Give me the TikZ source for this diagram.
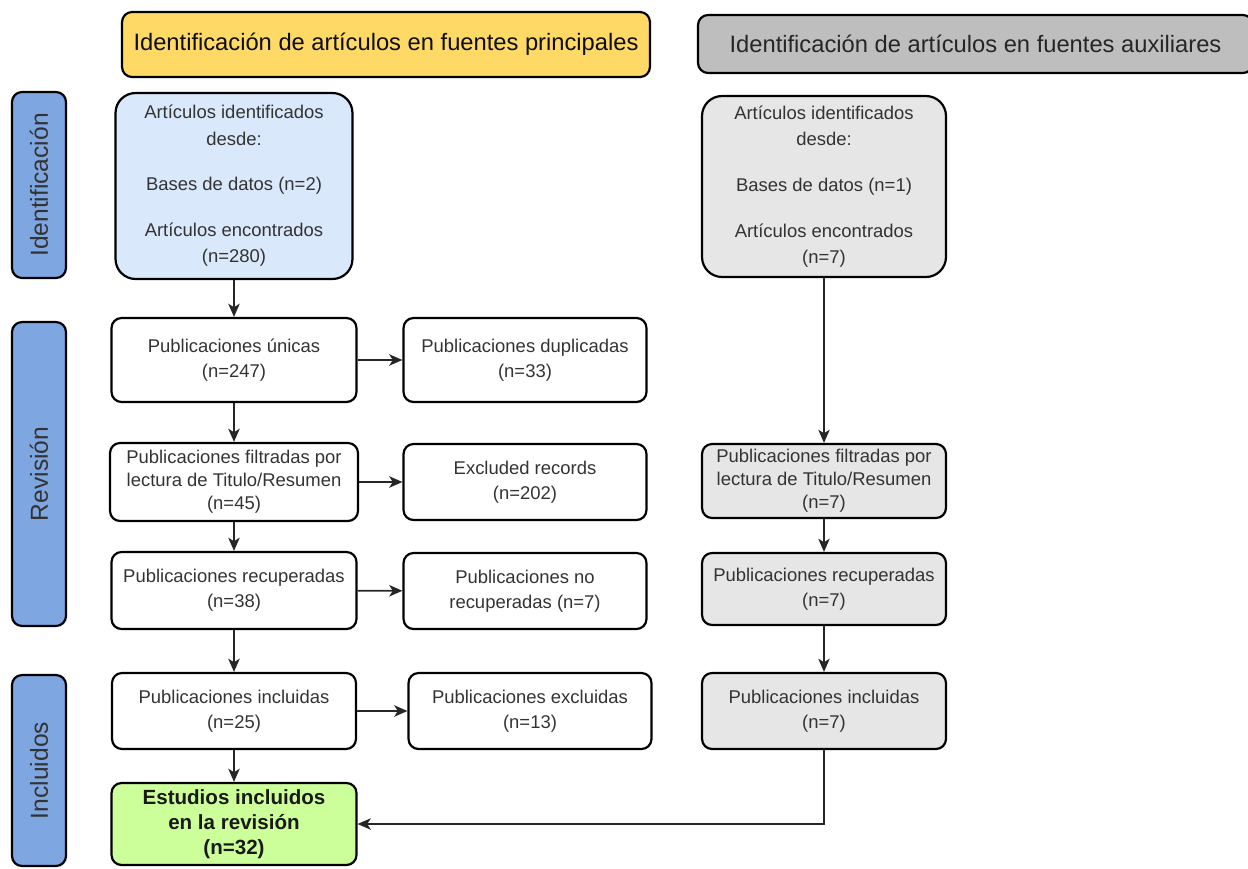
\documentclass[tikz,border=0pt]{standalone}
\usepackage{fontspec}
\setmainfont{Liberation Sans}
\usetikzlibrary{arrows.meta,positioning}
\definecolor{hdryellow}{HTML}{FFD966}
\definecolor{hdrgray}{HTML}{BEBEBE}
\definecolor{phaseblue}{HTML}{7EA6E0}
\definecolor{idblue}{HTML}{DAE8FC}
\definecolor{auxgray}{HTML}{E6E6E6}
\definecolor{incgreen}{HTML}{CCFF99}

\begin{document}
\begin{tikzpicture}[x=0.02cm,y=-0.02cm,>={Stealth[length=7.5pt,width=6.5pt,inset=2pt]},
  box/.style={draw,line width=1.25pt,rounded corners=2mm,align=center,text=black!80,font=\fontsize{10.5}{14}\selectfont,inner sep=2pt,minimum width=4.9cm,minimum height=1.54cm},
  aux/.style={box,fill=auxgray,minimum width=4.88cm},
  idbox/.style={box,rounded corners=4mm,font=\fontsize{10.5}{15}\selectfont,minimum height=3.65cm},
  hdr/.style={draw,line width=1.25pt,rounded corners=2mm,font=\fontsize{13.5}{16}\selectfont,minimum height=1.2cm},
  phase/.style={draw,line width=1.25pt,rounded corners=2mm,fill=phaseblue,rotate=90,font=\fontsize{14}{16}\selectfont,text=black!80,minimum height=1.08cm},
  arr/.style={->,line width=0.9pt,black!85}]
\useasboundingbox (0,0) rectangle (1248,869);
\clip (0,0) rectangle (1248,869);
% headers
\node[hdr,fill=hdryellow,text=black!95,minimum width=10.56cm,minimum height=1.3cm] (hdrP) at (386,44.5) {Identificación de artículos en fuentes principales};
\node[hdr,fill=hdrgray,text=black!85,minimum width=11.1cm,minimum height=1.16cm] (hdrA) at (975.5,44) {Identificación de artículos en fuentes auxiliares};
% phases
\node[phase,minimum width=3.72cm] (phId) at (39,185) {Identificación};
\node[phase,minimum width=6.08cm] (phRev) at (39,474) {Revisión};
\node[phase,minimum width=3.82cm] (phInc) at (39,770.5) {Incluidos};
% main sources
\node[idbox,fill=idblue,minimum width=4.74cm,minimum height=3.72cm] (idP) at (234,186) {Artículos identificados\\desde:\\[11pt]Bases de datos (n=2)\\[11pt]Artículos encontrados\\(n=280)};
\node[box,minimum height=1.68cm] (uniq) at (234,360) {Publicaciones únicas\\(n=247)};
\node[box,minimum width=4.86cm,minimum height=1.68cm] (dup) at (525,360) {Publicaciones duplicadas\\(n=33)};
\node[box,minimum width=4.96cm,minimum height=1.56cm,font=\fontsize{10.5}{13}\selectfont] (filt) at (234,482) {Publicaciones filtradas por\\lectura de Titulo/Resumen\\(n=45)};
\node[box,minimum width=4.86cm,minimum height=1.52cm] (excl) at (525,482) {Excluded records\\(n=202)};
\node[box] (recu) at (234,590.5) {Publicaciones recuperadas\\(n=38)};
\node[box,minimum width=4.86cm,minimum height=1.52cm] (norec) at (525,591) {Publicaciones no\\recuperadas (n=7)};
\node[box,minimum width=4.88cm,minimum height=1.52cm] (incl) at (234,711) {Publicaciones incluidas\\(n=25)};
\node[box,minimum width=4.86cm,minimum height=1.52cm] (exclu) at (530,711) {Publicaciones excluidas\\(n=13)};
\node[box,fill=incgreen,font=\bfseries\fontsize{11.7}{14.2}\selectfont,text=black!90,minimum height=1.64cm] (est) at (234,824) {Estudios incluidos\\en la revisión\\(n=32)};
% auxiliary sources
\node[idbox,fill=auxgray,minimum width=4.88cm,minimum height=3.62cm] (idA) at (824,186.5) {Artículos identificados\\desde:\\[11pt]Bases de datos (n=1)\\[11pt]Artículos encontrados\\(n=7)};
\node[aux,minimum height=1.48cm,font=\fontsize{10.5}{13}\selectfont] (filtA) at (824,481) {Publicaciones filtradas por\\lectura de Titulo/Resumen\\(n=7)};
\node[aux,minimum height=1.44cm] (recuA) at (824,589) {Publicaciones recuperadas\\(n=7)};
\node[aux,minimum height=1.52cm] (inclA) at (824,711) {Publicaciones incluidas\\(n=7)};
% connectors
\draw[arr] (idP) -- (uniq);
\draw[arr] (uniq) -- (filt);
\draw[arr] (filt) -- (recu);
\draw[arr] (recu) -- (incl);
\draw[arr] (incl) -- (est);
\draw[arr] (uniq) -- (dup);
\draw[arr] (filt) -- (excl);
\draw[arr] (recu) -- (norec);
\draw[arr] (incl) -- (exclu);
\draw[arr,line width=0.7pt] (idA) -- (filtA);
\draw[arr] (filtA) -- (recuA);
\draw[arr] (recuA) -- (inclA);
\draw[arr,line width=0.7pt] (inclA.south) |- (est.east);
\end{tikzpicture}
\end{document}
